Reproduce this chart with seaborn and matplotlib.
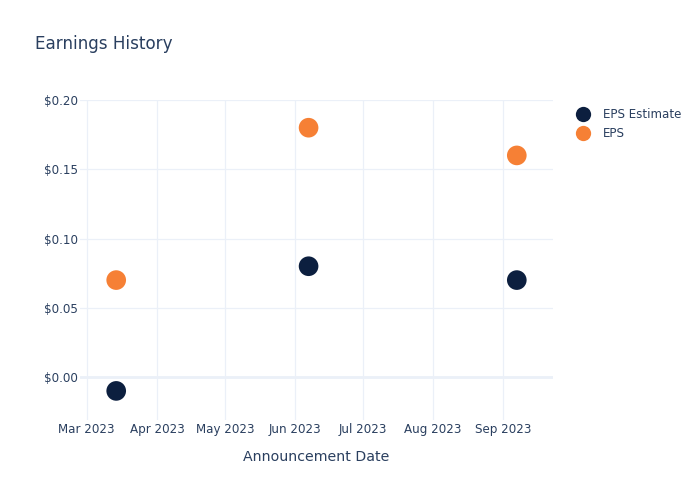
import matplotlib
matplotlib.use("Agg")
import matplotlib.pyplot as plt
import matplotlib.dates as mdates
from matplotlib.ticker import FuncFormatter
import seaborn as sns
import pandas as pd
from matplotlib.lines import Line2D

dates = ["2023-03-14", "2023-06-07", "2023-09-07"]
eps_estimate = [-0.01, 0.08, 0.07]
eps_actual = [0.07, 0.18, 0.16]
series_names = ["EPS Estimate", "EPS"]
colors = ["#0c1f3f", "#f68035"]

df = pd.DataFrame({
    "date": pd.to_datetime(dates * 2),
    "value": eps_estimate + eps_actual,
    "series": [series_names[0]] * 3 + [series_names[1]] * 3,
})

sns.set_theme(style="white")
plt.rcParams['font.family'] = ['DejaVu Sans']
txt = "#2a3f5f"
grid = "#ebf0f8"

fig = plt.figure(figsize=(7, 5), dpi=100)
ax = fig.add_axes([80/700, 80/500, 473/700, 320/500])

sns.scatterplot(data=df, x="date", y="value", hue="series",
                palette=dict(zip(series_names, colors)), s=200,
                edgecolor="none", ax=ax, legend=False, zorder=3)

ax.set_xlim(pd.Timestamp("2023-02-26"), pd.Timestamp("2023-09-23"))
ax.set_ylim(-0.031, 0.20)
ax.set_yticks([0.0, 0.05, 0.10, 0.15, 0.20])
ax.yaxis.set_major_formatter(FuncFormatter(lambda v, p: f"${v:.2f}"))
ax.xaxis.set_major_locator(mdates.MonthLocator())
ax.xaxis.set_major_formatter(mdates.DateFormatter("%b %Y"))

for s in ax.spines.values():
    s.set_visible(False)
ax.grid(True, color=grid, linewidth=0.9)
ax.axhline(0, color=grid, linewidth=2, zorder=1)
ax.set_axisbelow(True)
ax.tick_params(axis="both", colors=txt, labelsize=8.6, length=0)
ax.tick_params(axis="y", pad=1.5)
ax.tick_params(axis="x", pad=2.5)
ax.set_xlabel("Announcement Date", color=txt, fontsize=10.2, labelpad=10)
ax.set_ylabel("")

fig.text(35/700, 1 - 44/500, "Earnings History", color=txt, fontsize=12.1,
         va="center", ha="left")

handles = [Line2D([0], [0], marker="o", linestyle="", markersize=11,
                  markerfacecolor=c, markeredgecolor="none") for c in colors]
leg = fig.legend(handles, series_names, loc="upper left",
                 bbox_to_anchor=(571/700, 1 - 103/500), frameon=False,
                 fontsize=8.6, handletextpad=1.1, labelspacing=0.52,
                 borderaxespad=0, handlelength=1.2)
for t in leg.get_texts():
    t.set_color(txt)

fig.savefig("out.png", dpi=100)
